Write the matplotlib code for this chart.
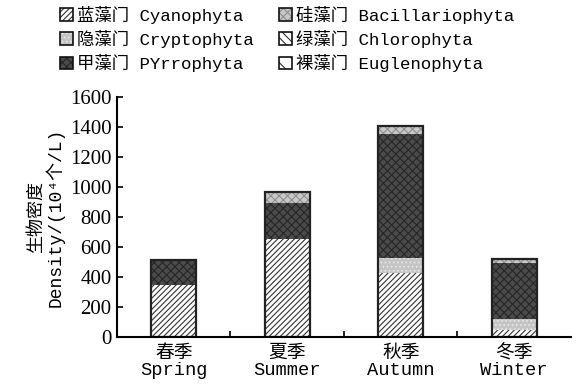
import numpy as np
import matplotlib.pyplot as plt
from matplotlib.patches import Patch
from matplotlib.legend_handler import HandlerTuple

plt.rcParams['hatch.linewidth'] = 0.8

seasons = ['春季\nSpring', '夏季\nSummer', '秋季\nAutumn', '冬季\nWinter']
phyla = ['蓝藻门 Cyanophyta', '隐藻门 Cryptophyta', '甲藻门 PYrrophyta',
         '硅藻门 Bacillariophyta', '绿藻门 Chlorophyta', '裸藻门 Euglenophyta']

# density per phylum, 10^4 cells/L, stacked bottom-up
cyanophyta = [345, 655, 428, 45]
cryptophyta = [0, 0, 96, 71]
pyrrophyta = [170, 240, 831, 374]
bacillariophyta = [0, 74, 49, 27]
chlorophyta = [0, 0, 0, 0]
euglenophyta = [0, 0, 0, 0]

series = [cyanophyta, cryptophyta, pyrrophyta, bacillariophyta, chlorophyta, euglenophyta]
faces = ['white', '#c4c4c4', '#4a4a4a', '#c8c8c8', 'white', 'white']
hatch_colors = ['#333333', '#e6e6e6', '#262626', '#8f8f8f', '#333333', '#333333']
hatches = ['//////', '....', 'xxxx', 'xxxx', '\\\\\\\\', '\\\\']

cjk = ['Liberation Mono', 'Noto Sans CJK SC', 'DejaVu Sans']
num_font = 'Liberation Serif'

fig = plt.figure(figsize=(5.85, 3.87), dpi=100)
ax = fig.add_axes([0.2, 0.13, 0.776, 0.619])

x = np.arange(len(seasons))
width = 0.4
bottom = np.zeros(len(seasons))
handles = []
for vals, fc, hc, h, name in zip(series, faces, hatch_colors, hatches, phyla):
    ax.bar(x, vals, width, bottom=bottom, color=fc, edgecolor=hc,
           hatch=h, linewidth=0, label=name)
    # legend key: pattern plus a black frame drawn on top
    key = Patch(facecolor=fc, edgecolor=hc, hatch=h, linewidth=0)
    frame = Patch(fill=False, edgecolor='#111111', linewidth=1.2)
    handles.append((key, frame))
    bottom += np.array(vals)

# outline around each whole stack
ax.bar(x, bottom, width, fill=False, edgecolor='#222222', linewidth=1.6)

ax.set_xlim(-0.5, 3.5)
ax.set_ylim(0, 1600)
ax.set_yticks(np.arange(0, 1601, 200))
ax.set_yticklabels([str(v) for v in range(0, 1601, 200)], fontsize=15, family=num_font)
ax.set_xticks(x)
ax.set_xticklabels(seasons, family=cjk, fontsize=13.5, linespacing=1.0)
ax.set_xticks(x[:-1] + 0.5, minor=True)
ax.tick_params(axis='x', which='major', length=0, pad=6)
ax.tick_params(axis='x', which='minor', direction='in', length=4, width=1.2)
ax.tick_params(axis='y', direction='in', length=4, width=1.2, pad=4)

for s in ['top', 'right']:
    ax.spines[s].set_visible(False)
for s in ['left', 'bottom']:
    ax.spines[s].set_linewidth(1.5)

ax.set_ylabel('生物密度\nDensity/(10⁴个/L)', family=cjk, fontsize=13, linespacing=1.0, labelpad=4)

fig.legend(handles=handles, labels=phyla, ncol=2, loc='upper left',
           bbox_to_anchor=(0.085, 1.012), frameon=False,
           prop={'family': cjk, 'size': 12.5},
           handler_map={tuple: HandlerTuple(ndivide=1, pad=0)},
           handlelength=0.75, handleheight=0.75, handletextpad=0.2,
           columnspacing=1.5, labelspacing=0.35, borderaxespad=0.2)

fig.savefig('out.png', dpi=100)
